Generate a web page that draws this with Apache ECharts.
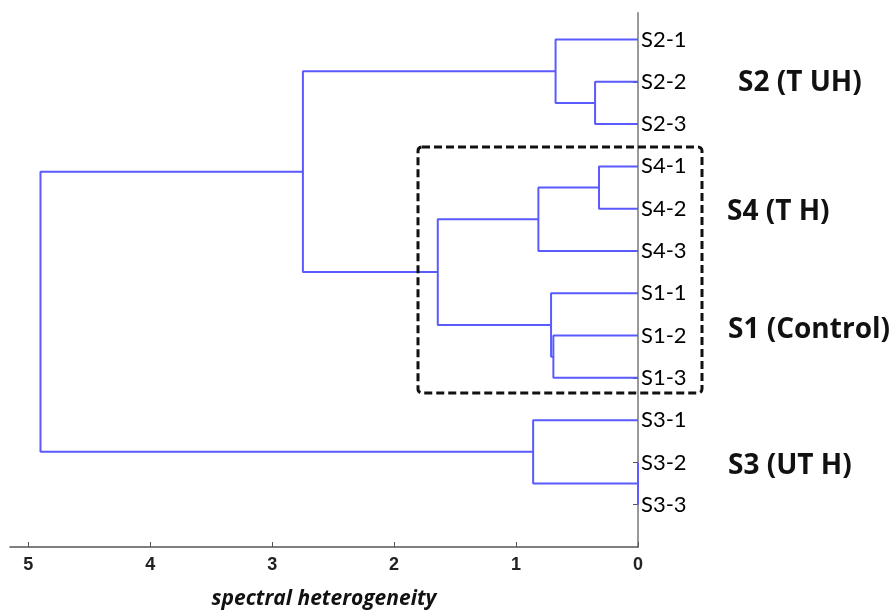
<!DOCTYPE html>
<html>
<head>
<meta charset="utf-8">
<script src="https://cdn.jsdelivr.net/npm/echarts@6/dist/echarts.min.js"></script>
<style>html,body{margin:0;padding:0;background:#fff}#c{width:893px;height:610px}</style>
</head>
<body>
<div id="c"></div>
<script>
// Leaves, top to bottom
var leaves = ['S2-1','S2-2','S2-3','S4-1','S4-2','S4-3','S1-1','S1-2','S1-3','S3-1','S3-2','S3-3'];
// Linkage: node ids 0..11 are leaves, each merge creates node 12, 13, ...
var mergeA = [1, 3, 10, 0, 7, 6, 13, 9, 18, 15, 21];
var mergeB = [2, 4, 11, 12, 8, 16, 5, 14, 17, 20, 19];
var mergeHeight = [0.352, 0.32, 0.0, 0.676, 0.694, 0.713, 0.817, 0.86, 1.642, 2.748, 4.90];
var xTicks = [0, 1, 2, 3, 4, 5];
var groupLabels = ['S2 (T UH)', 'S4 (T H)', 'S1 (Control)', 'S3 (UT H)'];
var xName = 'spectral heterogeneity';

var nodeH = leaves.map(function(){return 0;});
var nodeY = leaves.map(function(_, i){return i;});
var series = [];
for (var k = 0; k < mergeA.length; k++) {
  var a = mergeA[k], b = mergeB[k], h = mergeHeight[k];
  series.push({
    type: 'line', symbol: 'none', silent: true, animation: false,
    lineStyle: {color: '#5a5aff', width: 2},
    data: [[nodeH[a], nodeY[a]], [h, nodeY[a]], [h, nodeY[b]], [nodeH[b], nodeY[b]]]
  });
  nodeH.push(h);
  nodeY.push((nodeY[a] + nodeY[b]) / 2);
}
var leafIdx = leaves.map(function(_, i){return i;});

var chart = echarts.init(document.getElementById('c'), null, {renderer: 'canvas'});
chart.setOption({
  animation: false,
  grid: {left: 10, right: 255, top: 12.7, bottom: 63, outerBoundsMode: 'none', containLabel: false},
  xAxis: {
    type: 'value', inverse: true, min: 0, max: 5.15, interval: 1, position: 'bottom',
    splitLine: {show: false},
    axisLine: {onZero: false, lineStyle: {color: '#555', width: 1.5}},
    axisTick: {inside: true, length: 5, lineStyle: {color: '#555'}, customValues: xTicks},
    axisLabel: {customValues: xTicks, color: '#222', fontFamily: 'Liberation Sans', fontWeight: 'bold', fontSize: 18, margin: 9},
    name: xName, nameLocation: 'middle', nameGap: 42,
    nameTextStyle: {fontFamily: 'Open Sans', fontStyle: 'italic', fontWeight: 'bold', fontSize: 21, color: '#111'}
  },
  yAxis: {
    type: 'value', inverse: true, position: 'right', min: -0.634, max: 12.0,
    splitLine: {show: false},
    axisLine: {onZero: false, lineStyle: {color: '#777', width: 1.5}},
    axisTick: {inside: true, length: 5, lineStyle: {color: '#555'}, customValues: leafIdx},
    axisLabel: {
      customValues: leafIdx,
      formatter: function(v){return leaves[Math.round(v)];},
      color: '#000', fontFamily: 'Lato', fontSize: 22, margin: 3
    }
  },
  series: series,
  graphic: [
    {type: 'rect', shape: {x: 418, y: 147, width: 284, height: 246, r: 4},
     style: {fill: 'none', stroke: '#111', lineWidth: 3, lineDash: [8, 4]}, z: 100},
    {type: 'text', x: 738, y: 83, style: {text: groupLabels[0], font: 'bold 28px "Open Sans"', fill: '#111', verticalAlign: 'middle'}},
    {type: 'text', x: 727, y: 212, style: {text: groupLabels[1], font: 'bold 28px "Open Sans"', fill: '#111', verticalAlign: 'middle'}},
    {type: 'text', x: 728, y: 330, style: {text: groupLabels[2], font: 'bold 28px "Open Sans"', fill: '#111', verticalAlign: 'middle'}},
    {type: 'text', x: 728, y: 466, style: {text: groupLabels[3], font: 'bold 28px "Open Sans"', fill: '#111', verticalAlign: 'middle'}}
  ]
});
</script>
</body>
</html>
